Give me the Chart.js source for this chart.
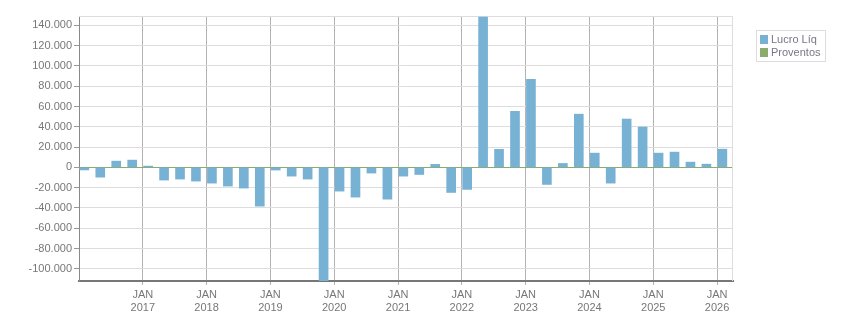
<!DOCTYPE html>
<html>
<head>
<meta charset="utf-8">
<script src="https://cdn.jsdelivr.net/npm/chart.js@4/dist/chart.umd.min.js"></script>
<style>
    body { margin: 0; background: #fff; }
    #wrap { position: relative; width: 851px; height: 313px; }
    #legend {
        position: absolute; left: 756px; top: 30px;
        border: 1px solid #dddddd; padding: 2px 4px 2px 3px;
        font: 11px "Liberation Sans", Arial, sans-serif; color: #777788;
    }
    #legend div { height: 13px; line-height: 13px; white-space: nowrap; }
    #legend span { display: inline-block; width: 8px; height: 9px; margin-right: 3px; vertical-align: -1px; }
</style>
</head>
<body>
<div id="wrap">
    <canvas id="myChart" width="851" height="313"></canvas>
    <div id="legend"></div>
</div>
<script>
// trimestres (resultado divulgado ~1 mes depois do fim do trimestre)
var quarters = ['4T15',
    '1T16', '2T16', '3T16', '4T16', '1T17', '2T17', '3T17', '4T17',
    '1T18', '2T18', '3T18', '4T18', '1T19', '2T19', '3T19', '4T19',
    '1T20', '2T20', '3T20', '4T20', '1T21', '2T21', '3T21', '4T21',
    '1T22', '2T22', '3T22', '4T22', '1T23', '2T23', '3T23', '4T23',
    '1T24', '2T24', '3T24', '4T24', '1T25', '2T25', '3T25', '4T25'];
var lucroLiq = [-2500,
    -9600, 6200, 7200, 1300, -12500, -11500, -13500, -15500,
    -18400, -20400, -38200, -2600, -8600, -11500, -112000, -23400,
    -29300, -5600, -31300, -8600, -7000, 3000, -24700, -21700,
    148300, 17800, 55300, 86800, -16800, 3900, 52500, 14100,
    -15500, 47700, 39800, 14100, 15100, 5200, 3200, 18000];
var proventos = quarters.map(function () { return 0; });
var tickYears = [2017, 2018, 2019, 2020, 2021, 2022, 2023, 2024, 2025, 2026];
var yTicks = [-100000, -80000, -60000, -40000, -20000, 0, 20000, 40000, 60000, 80000, 100000, 120000, 140000];
var yMin = -112000, yMax = 149300;

(function () {
    'use strict';

    var FONT = '"Liberation Sans", Arial, sans-serif';

    function quarterToYear(q) {
        var n = parseInt(q.charAt(0), 10);
        var yr = 2000 + parseInt(q.slice(2), 10);
        return yr + n / 4 + 1 / 12;
    }

    function toPoints(values) {
        return values.map(function (v, i) {
            return { x: quarterToYear(quarters[i]), y: v };
        });
    }

    function fmt(v) {
        return String(v).replace(/\B(?=(\d{3})+(?!\d))/g, '.');
    }

    var frame = {
        id: 'frame',
        beforeDatasetsDraw: function (chart) {
            var a = chart.chartArea, c = chart.ctx;
            c.save();
            c.strokeStyle = '#dddddd';
            c.lineWidth = 1;
            c.beginPath();
            c.moveTo(a.left, a.top + 0.5);
            c.lineTo(a.right - 0.5, a.top + 0.5);
            c.lineTo(a.right - 0.5, a.bottom);
            c.stroke();
            c.restore();
        }
    };

    var ctx = document.getElementById('myChart').getContext('2d');
    var chart = new Chart(ctx, {
        type: 'bar',
        data: {
            datasets: [{
                label: 'Lucro Líq',
                data: toPoints(lucroLiq),
                backgroundColor: '#77b2d4',
                borderWidth: 0,
                barThickness: 9
            }, {
                label: 'Proventos',
                data: toPoints(proventos),
                backgroundColor: '#8aad6b',
                borderWidth: 0,
                barThickness: 9
            }]
        },
        options: {
            responsive: false,
            animation: false,
            grouped: false,
            layout: { padding: { left: 0, right: 118, top: 16, bottom: 0 } },
            plugins: {
                legend: { display: false },
                tooltip: { enabled: false }
            },
            scales: {
                x: {
                    type: 'linear',
                    min: 2016,
                    max: 2026.25,
                    offset: false,
                    afterBuildTicks: function (scale) {
                        scale.ticks = tickYears.map(function (y) { return { value: y }; });
                    },
                    afterFit: function (scale) { scale.height = 32; },
                    ticks: {
                        color: '#777777',
                        font: { family: FONT, size: 11 },
                        padding: 3,
                        maxRotation: 0,
                        autoSkip: false,
                        callback: function (v) { return ['JAN', String(v)]; }
                    },
                    grid: { offset: false, color: '#b3b3b3', tickColor: '#b3b3b3', tickLength: 4 },
                    border: { color: '#777777', width: 2 }
                },
                y: {
                    min: yMin,
                    max: yMax,
                    afterBuildTicks: function (scale) {
                        scale.ticks = yTicks.map(function (v) { return { value: v }; });
                    },
                    afterFit: function (scale) { scale.width = 79; },
                    ticks: {
                        color: '#777777',
                        font: { family: FONT, size: 11 },
                        padding: 2,
                        callback: function (v) { return fmt(v); }
                    },
                    grid: {
                        color: function (c) { return c.tick && c.tick.value === 0 ? '#8aab6a' : '#dddddd'; },
                        tickColor: '#999999',
                        tickLength: 5
                    },
                    border: { color: '#888888', width: 1 }
                }
            }
        },
        plugins: [frame]
    });

    var legend = document.getElementById('legend');
    chart.data.datasets.forEach(function (ds) {
        var row = document.createElement('div');
        var box = document.createElement('span');
        box.style.background = ds.backgroundColor;
        row.appendChild(box);
        row.appendChild(document.createTextNode(ds.label));
        legend.appendChild(row);
    });
})();
</script>
</body>
</html>
